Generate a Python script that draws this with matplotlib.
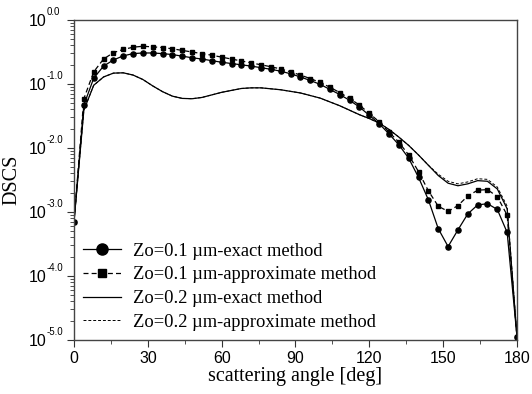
import numpy as np
import matplotlib
matplotlib.use("Agg")
import matplotlib.pyplot as plt
from matplotlib.ticker import FixedLocator, LogLocator, NullFormatter, MultipleLocator

# scattering angle [deg], one point every 4 degrees
angle = list(range(0, 181, 4))

# log10(DSCS)
log_exact_01 = [-3.15, -1.33, -0.91, -0.72, -0.625, -0.56, -0.525, -0.515, -0.515, -0.525,
                -0.54, -0.565, -0.59, -0.61, -0.635, -0.66, -0.68, -0.70, -0.72, -0.745,
                -0.77, -0.80, -0.84, -0.89, -0.945, -1.005, -1.085, -1.165, -1.255, -1.36,
                -1.49, -1.62, -1.78, -1.95, -2.16, -2.46, -2.81, -3.26, -3.54, -3.28,
                -3.03, -2.89, -2.87, -2.96, -3.32, -4.95]
log_approx_01 = [-3.15, -1.23, -0.81, -0.61, -0.51, -0.46, -0.425, -0.41, -0.42, -0.43,
                 -0.45, -0.475, -0.50, -0.525, -0.55, -0.58, -0.61, -0.64, -0.67, -0.70,
                 -0.73, -0.765, -0.81, -0.86, -0.915, -0.975, -1.05, -1.135, -1.225, -1.33,
                 -1.46, -1.59, -1.75, -1.91, -2.11, -2.37, -2.67, -2.91, -2.99, -2.90,
                 -2.75, -2.66, -2.65, -2.76, -3.05, -4.95]
log_exact_02 = [-3.15, -1.41, -1.02, -0.89, -0.83, -0.825, -0.86, -0.93, -1.03, -1.12,
                -1.19, -1.225, -1.23, -1.21, -1.17, -1.13, -1.10, -1.07, -1.06, -1.06,
                -1.075, -1.09, -1.115, -1.14, -1.18, -1.22, -1.28, -1.34, -1.41, -1.48,
                -1.54, -1.61, -1.71, -1.83, -1.96, -2.11, -2.27, -2.43, -2.55, -2.59,
                -2.56, -2.51, -2.52, -2.64, -2.95, -4.95]
log_approx_02 = [-3.15, -1.41, -1.02, -0.89, -0.83, -0.825, -0.86, -0.93, -1.03, -1.12,
                 -1.19, -1.225, -1.23, -1.21, -1.17, -1.13, -1.10, -1.07, -1.06, -1.06,
                 -1.075, -1.09, -1.115, -1.14, -1.18, -1.22, -1.28, -1.34, -1.41, -1.48,
                 -1.54, -1.61, -1.71, -1.83, -1.96, -2.11, -2.27, -2.41, -2.52, -2.56,
                 -2.53, -2.48, -2.49, -2.61, -2.91, -4.95]

labels = ["Zo=0.1 µm-exact method", "Zo=0.1 µm-approximate method",
          "Zo=0.2 µm-exact method", "Zo=0.2 µm-approximate method"]

x_ticks = [0, 30, 60, 90, 120, 150, 180]
y_exps = [0, -1, -2, -3, -4, -5]
y_exp_labels = ["0.0", "-1.0", "-2.0", "-3.0", "-4.0", "-5.0"]

fig = plt.figure(figsize=(5.32, 3.94), dpi=100)
ax = fig.add_axes([0.1391, 0.1371, 0.8327, 0.8121])

ax.plot(angle, 10 ** np.array(log_exact_01), color="black", lw=0.9,
        marker="o", ms=3.7, label=labels[0])
ax.plot(angle, 10 ** np.array(log_approx_01), color="black", lw=0.9, dashes=(4, 2.5),
        marker="s", ms=2.8, label=labels[1])
ax.plot(angle, 10 ** np.array(log_exact_02), color="black", lw=0.9, label=labels[2])
ax.plot(angle, 10 ** np.array(log_approx_02), color="black", lw=0.7, dashes=(3, 2),
        label=labels[3])

ax.set_yscale("log")
ax.set_xlim(0, 180)
ax.set_ylim(1e-5, 1)

ax.xaxis.set_major_locator(FixedLocator(x_ticks))
ax.xaxis.set_minor_locator(MultipleLocator(15))
ax.set_xticklabels([str(t) for t in x_ticks], family="Liberation Sans", fontsize=11.5)

ax.yaxis.set_major_locator(FixedLocator([10.0 ** e for e in y_exps]))
ax.yaxis.set_minor_locator(LogLocator(base=10, subs=np.arange(2, 10)))
ax.yaxis.set_minor_formatter(NullFormatter())
ax.set_yticklabels(["10"] * len(y_exps), family="Liberation Sans", fontsize=11.5)

ax.tick_params(which="major", direction="out", length=5, width=0.8, color="#333333")
ax.tick_params(axis="y", which="major", pad=15)
ax.tick_params(axis="x", which="major", pad=3)
ax.tick_params(which="minor", direction="out", length=3, width=0.6, color="#333333")
for s in ax.spines.values():
    s.set_color("#444444")
    s.set_linewidth(1.0)

# small exponents next to the "10" tick labels
for e, txt in zip(y_exps, y_exp_labels):
    ax.annotate(txt, xy=(0, 10.0 ** e), xycoords=("axes fraction", "data"),
                xytext=(-19.5, 3.5), textcoords="offset points",
                ha="left", va="baseline", family="Liberation Sans", fontsize=7)

ax.set_xlabel("scattering angle [deg]", family="Liberation Serif", fontsize=14.5, labelpad=1)
ax.set_ylabel("DSCS", family="Liberation Serif", fontsize=14.5)
ax.yaxis.set_label_coords(-0.118, 0.5)

leg = ax.legend(loc="lower left", frameon=False,
                prop={"family": "Liberation Serif", "size": 13.3},
                handlelength=2.05, handletextpad=0.65, labelspacing=0.36,
                borderpad=0.3, borderaxespad=0.2)
leg.legend_handles[0].set_markersize(8)
leg.legend_handles[1].set_markersize(5.5)

fig.savefig("out.png", dpi=100)
